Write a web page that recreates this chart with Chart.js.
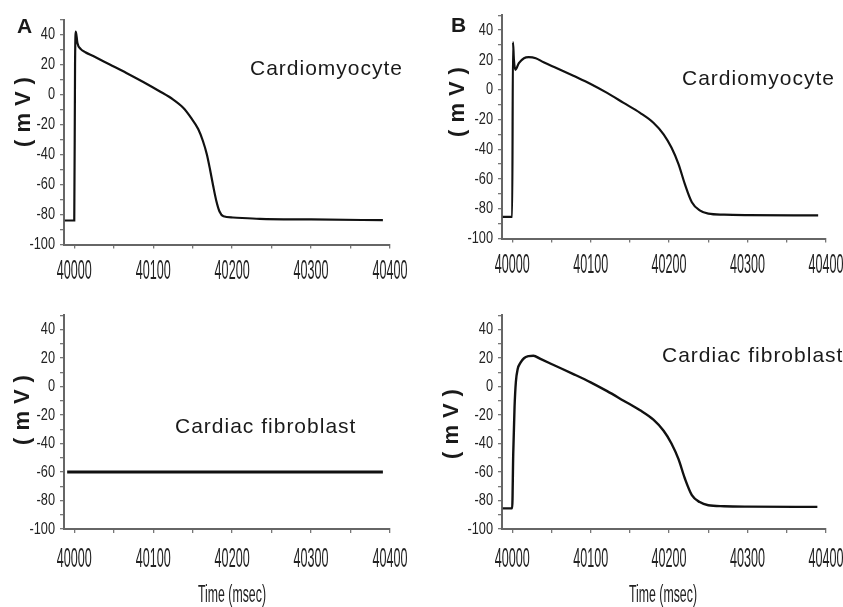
<!DOCTYPE html>
<html>
<head>
<meta charset="utf-8">
<script src="https://cdn.jsdelivr.net/npm/chart.js@4.4.1/dist/chart.umd.min.js"></script>
<style>
  body { margin: 0; background: #fff; }
  #page { position: relative; width: 843px; height: 607px; overflow: hidden; background: #fff; }
  canvas { position: absolute; }
  .txt { position: absolute; font-family: 'Liberation Sans', Arial, sans-serif; color: #1a1a1a; line-height: 1; white-space: nowrap; }
  .panel { font-weight: bold; font-size: 21px; }
  .name { font-size: 21px; letter-spacing: 1px; }
  .unit { font-weight: bold; font-size: 22px; letter-spacing: 7px; padding-left: 7px; transform: translate(-50%, -50%) rotate(-90deg); }
  .time { font-size: 22px; transform: translate(-50%, -50%) scale(0.56, 1.05); color: #222; }
</style>
</head>
<body>
<div id="page">
  <canvas id="cellA"></canvas>
  <canvas id="cellB"></canvas>
  <canvas id="fibroA"></canvas>
  <canvas id="fibroB"></canvas>

  <div class="txt panel" style="left:17px;top:15px">A</div>
  <div class="txt panel" style="left:451px;top:14px">B</div>

  <div class="txt unit" style="left:23px;top:112px">(mV)</div>
  <div class="txt unit" style="left:457px;top:102px">(mV)</div>
  <div class="txt unit" style="left:22px;top:410px">(mV)</div>
  <div class="txt unit" style="left:451px;top:424px">(mV)</div>

  <div class="txt name" style="left:250px;top:57px">Cardiomyocyte</div>
  <div class="txt name" style="left:682px;top:67px">Cardiomyocyte</div>
  <div class="txt name" style="left:175px;top:415px">Cardiac fibroblast</div>
  <div class="txt name" style="left:662px;top:344px">Cardiac fibroblast</div>

  <div class="txt time" style="left:232px;top:595px">Time (msec)</div>
  <div class="txt time" style="left:663px;top:595px">Time (msec)</div>
</div>
<script>
// axis ticks (ms and mV)
const xTickValues = [40000, 40050, 40100, 40150, 40200, 40250, 40300, 40350, 40400];
const xLabelValues = [40000, 40100, 40200, 40300, 40400];
const yTickValues = [-100, -90, -80, -70, -60, -50, -40, -30, -20, -10, 0, 10, 20, 30, 40, 50];
const yLabelValues = [-100, -80, -60, -40, -20, 0, 20, 40];

// A: cardiomyocyte alone
const timeCellA = [39988, 40000, 40001, 40002, 40004, 40008, 40014, 40024, 40045, 40066, 40088, 40108, 40125, 40138, 40148, 40157, 40163, 40168, 40172, 40176, 40180, 40184, 40189, 40201, 40235, 40300, 40391];
const voltCellA = [-84, -84, 20, 42, 34.4, 30.4, 28.2, 25.6, 20, 14.4, 8.2, 2.2, -3.3, -8.9, -15.6, -23, -31, -40, -50, -61, -71, -78, -81.2, -82, -82.9, -83.3, -83.8];

// A: uncoupled fibroblast
const timeFibroA = [39991, 40391];
const voltFibroA = [-60, -60];

// B: coupled cardiomyocyte
const timeCellB = [39988, 40000, 40001, 40002.2, 40004, 40008.5, 40015, 40021, 40030, 40040, 40057, 40078, 40100, 40121, 40142, 40163, 40180, 40193, 40203, 40212, 40220, 40229, 40239, 40250, 40270, 40300, 40390];
const voltCellB = [-85.5, -85.5, 32, 20, 13.3, 17.8, 21.1, 21.8, 21.1, 18.4, 14.4, 9.3, 3.8, -2.2, -8.9, -15.6, -22.2, -30, -38.9, -50, -63.3, -75.6, -81.1, -83.3, -84, -84.3, -84.5];

// B: coupled fibroblast
const timeFibroB = [39988, 40000, 40001.3, 40003, 40004.7, 40007, 40010.6, 40015, 40021, 40027, 40036, 40057, 40078, 40100, 40121, 40142, 40163, 40180, 40193, 40203, 40212, 40220, 40229, 40239, 40250, 40270, 40300, 40389];
const voltFibroB = [-85.5, -85.5, -47.8, -14.4, 3.3, 12.2, 16.7, 19.8, 21.3, 21.6, 19.3, 14, 8.7, 2.9, -3.3, -10, -16.7, -23.3, -31.1, -40, -51, -64.4, -76.2, -81.1, -83.3, -84, -84.3, -84.5];

const X_MIN = 39987;
const X_MAX = 40400;
const Y_AXIS_W = 64;
const X_AXIS_H = 40;
const RIGHT_PAD = 46; // room for the last x label so the plot is not squeezed
const tickFont = "'Liberation Sans', Arial, sans-serif";

// frame = canvas [left, top, h]; area = plot [left, right, top, bottom], page pixels
const panels = [
  { id: 'cellA', frame: [0, 0, 300], area: [64, 390, 19.5, 244.5], t: timeCellA, v: voltCellA, lw: 2.2, xPad: 11 },
  { id: 'cellB', frame: [421, 0, 300], area: [502, 826, 13, 238.5], t: timeCellB, v: voltCellB, lw: 2.2, xPad: 11 },
  { id: 'fibroA', frame: [0, 300, 307], area: [64, 390, 309, 529], t: timeFibroA, v: voltFibroA, lw: 3, xPad: 14 },
  { id: 'fibroB', frame: [421, 300, 307], area: [502, 826, 303, 529], t: timeFibroB, v: voltFibroB, lw: 2.4, xPad: 14 }
];

// the tick labels in the figure are in a squeezed font: x labels narrow and tall, y labels narrow
const squeezeLabels = {
  id: 'squeezeLabels',
  beforeDraw(chart) {
    const ctx = chart.ctx;
    if (ctx._squeezed) return;
    const fill = ctx.fillText;
    ctx.fillText = function (text, x, y) {
      const s = this.textAlign === 'center' ? [0.63, 1.4] : [0.75, 1];
      this.save();
      this.translate(x, y);
      this.scale(s[0], s[1]);
      fill.call(this, text, 0, 0);
      this.restore();
    };
    ctx._squeezed = true;
  }
};

const makeChart = (p) => {
  const canvas = document.getElementById(p.id);
  const [fl, ft, fh] = p.frame;
  const [al, ar, at, ab] = p.area;
  const fw = ar - fl + RIGHT_PAD;
  canvas.style.left = fl + 'px';
  canvas.style.top = ft + 'px';
  canvas.width = fw;
  canvas.height = fh;

  const padding = {
    left: al - fl - Y_AXIS_W,
    right: RIGHT_PAD,
    top: at - ft,
    bottom: ft + fh - ab - X_AXIS_H
  };

  const grid = { drawOnChartArea: false, tickLength: 4, color: '#777', lineWidth: 1.3 };
  const border = { display: true, color: '#666', width: 2 };

  return new Chart(canvas, {
    type: 'line',
    data: {
      datasets: [{
        data: p.t.map((x, i) => ({ x, y: p.v[i] })),
        borderColor: '#111',
        borderWidth: p.lw,
        pointRadius: 0,
        fill: false,
        cubicInterpolationMode: 'monotone'
      }]
    },
    options: {
      responsive: false,
      animation: false,
      events: [],
      layout: { padding },
      plugins: { legend: { display: false }, tooltip: { enabled: false } },
      scales: {
        x: {
          type: 'linear',
          min: X_MIN,
          max: X_MAX,
          afterFit: (s) => { s.height = X_AXIS_H; },
          afterBuildTicks: (s) => { s.ticks = xTickValues.map(value => ({ value })); },
          ticks: {
            autoSkip: false,
            maxRotation: 0,
            padding: p.xPad,
            color: '#222',
            font: { family: tickFont, size: 20 },
            callback: (v) => xLabelValues.includes(v) ? String(v) : ''
          },
          grid,
          border
        },
        y: {
          min: -100,
          max: 50,
          afterFit: (s) => { s.width = Y_AXIS_W; },
          afterBuildTicks: (s) => { s.ticks = yTickValues.map(value => ({ value })); },
          ticks: {
            autoSkip: false,
            padding: 5,
            color: '#222',
            font: { family: tickFont, size: 17 },
            callback: (v) => yLabelValues.includes(v) ? String(v) : ''
          },
          grid,
          border
        }
      }
    },
    plugins: [squeezeLabels]
  });
};

panels.forEach(makeChart);
</script>
</body>
</html>
